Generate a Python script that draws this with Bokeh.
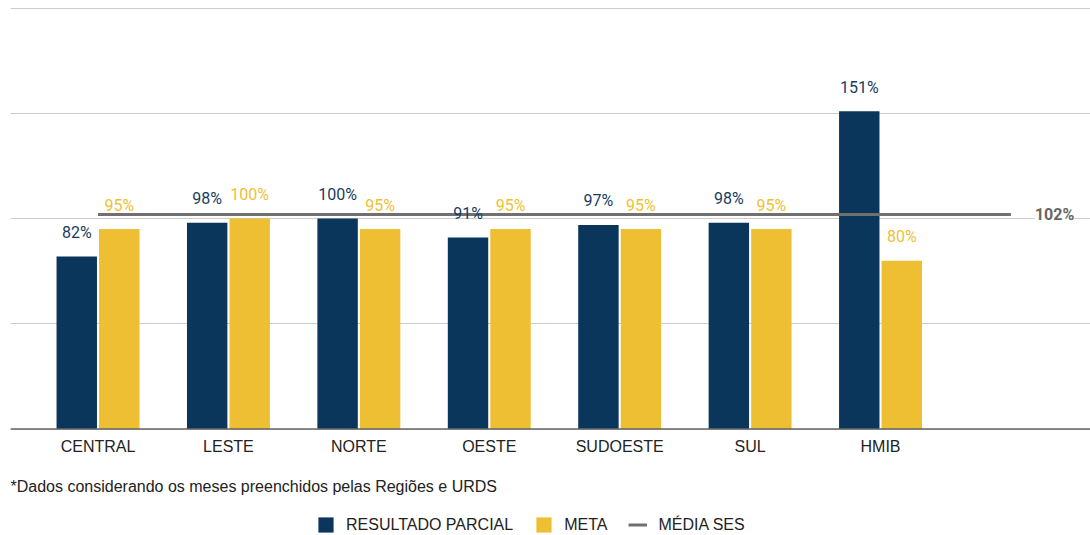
from bokeh.plotting import figure
from bokeh.models import (ColumnDataSource, Range1d, FixedTicker, Grid, LabelSet,
                          Label, Legend, LegendItem, Span)
from bokeh.transform import dodge
from bokeh.core.properties import value
from bokeh.embed import file_html
from bokeh.resources import INLINE

categories = ["CENTRAL", "LESTE", "NORTE", "OESTE", "SUDOESTE", "SUL", "HMIB"]
resultado_parcial = [82, 98, 100, 91, 97, 98, 151]
meta = [95, 100, 95, 95, 95, 95, 80]
media_ses_x = [0, 1, 2, 3, 4, 5, 6, 7]
media_ses = [102, 102, 102, 102, 102, 102, 102, 102]
y_ticks = [0, 50, 100, 150, 200]
footnote = "*Dados considerando os meses preenchidos pelas Regiões e URDS"

NAVY = "#0A365C"
NAVY_TXT = "#1A3C60"
YELLOW = "#EFBF33"
GRAY = "#707070"

src = ColumnDataSource(dict(
    x=list(range(len(categories))),
    base=[0] * len(categories),
    cat=categories,
    res=resultado_parcial,
    meta=meta,
    res_lbl=[f"{v}%" for v in resultado_parcial],
    meta_lbl=[f"{v}%" for v in meta],
))

xr = Range1d(-0.671, 7.61)
p = figure(width=1090, height=535,
           x_range=xr, y_range=Range1d(-50.55, 200.76),
           output_backend="svg", toolbar_location=None,
           x_axis_location=None, y_axis_location=None,
           min_border_left=10, min_border_right=0, min_border_top=6, min_border_bottom=0)
p.outline_line_color = None
for r in list(p.center):
    if isinstance(r, Grid):
        r.visible = False
p.add_layout(Grid(dimension=1, ticker=FixedTicker(ticks=y_ticks),
                  grid_line_color="#cccccc", grid_line_width=1))
p.add_layout(Span(location=0, dimension="width", line_color="#666666", line_width=1.5))

off = 0.163
w = 0.31
r1 = p.vbar(x=dodge("x", -off), top="res", bottom="base", width=w, source=src,
            fill_color=NAVY, line_color=None)
r2 = p.vbar(x=dodge("x", off), top="meta", bottom="base", width=w, source=src,
            fill_color=YELLOW, line_color=None)
r3 = p.line(x=media_ses_x, y=media_ses, line_color=GRAY, line_width=3)

p.add_layout(LabelSet(x=dodge("x", -off), y="res", text="res_lbl", source=src,
                      y_offset=24, text_align="center", text_baseline="middle",
                      text_font=value("Roboto"), text_font_size="16px",
                      text_color=NAVY_TXT))
p.add_layout(LabelSet(x=dodge("x", off), y="meta", text="meta_lbl", source=src,
                      y_offset=24, text_align="center", text_baseline="middle",
                      text_font=value("Roboto"), text_font_size="16px",
                      text_color=YELLOW))
p.add_layout(Label(x=media_ses_x[-1], y=media_ses[-1], x_offset=24, text=f"{media_ses[-1]}%",
                   text_align="left", text_baseline="middle", text_font="Roboto",
                   text_font_size="16px", text_font_style="bold", text_color="#666666",
                   background_fill_color="white"))

# category (x axis) labels
p.add_layout(LabelSet(x="x", y="base", text="cat", source=src, y_offset=-17,
                      text_align="center", text_baseline="middle",
                      text_font=value("Liberation Sans"), text_font_size="16px",
                      text_color="#222222"))

# footnote
p.add_layout(Label(x=xr.start, y=0, y_offset=-57, text=footnote,
                   text_align="left", text_baseline="middle",
                   text_font="Liberation Sans", text_font_size="16px",
                   text_color="#222222"))

legend = Legend(items=[LegendItem(label="RESULTADO PARCIAL", renderers=[r1]),
                       LegendItem(label="META", renderers=[r2]),
                       LegendItem(label="MÉDIA SES", renderers=[r3])],
                orientation="horizontal", location=(306, 1),
                label_text_font="Liberation Sans", label_text_font_size="16px",
                label_text_color="#222222",
                glyph_width=19, glyph_height=19, label_standoff=11, spacing=21,
                border_line_color=None, background_fill_alpha=0, padding=0, margin=0)
p.add_layout(legend, "center")

open("out.html", "w").write(file_html(p, INLINE))
